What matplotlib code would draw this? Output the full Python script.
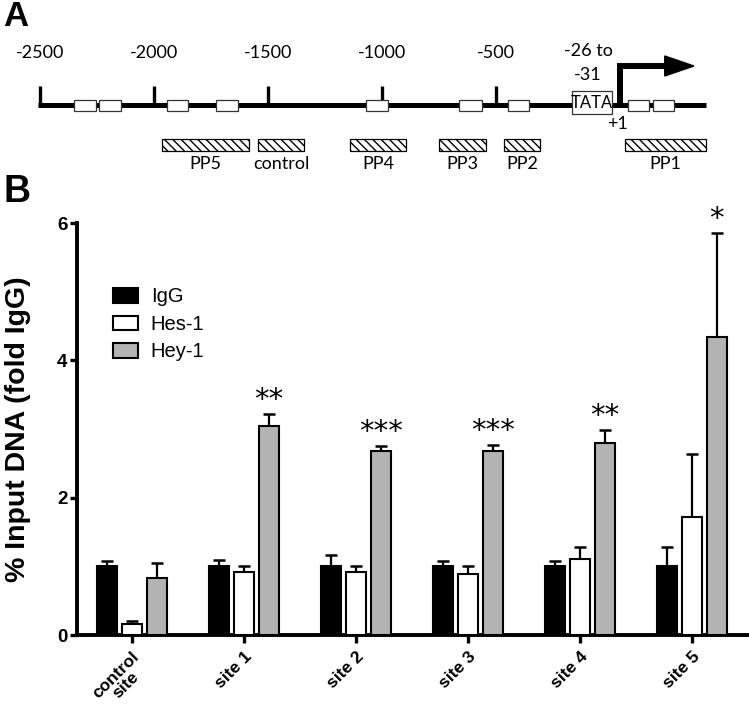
import numpy as np
import matplotlib
matplotlib.use("Agg")
import matplotlib.pyplot as plt
from matplotlib.patches import Rectangle

# ---------------- data (panel B) ----------------
categories = ["control\nsite", "site 1", "site 2", "site 3", "site 4", "site 5"]
series_names = ["IgG", "Hes-1", "Hey-1"]
igg = [1.00, 1.00, 1.00, 1.00, 1.00, 1.00]
igg_err = [0.08, 0.09, 0.17, 0.08, 0.08, 0.28]
hes1 = [0.16, 0.92, 0.92, 0.89, 1.10, 1.72]
hes1_err = [0.05, 0.09, 0.09, 0.12, 0.18, 0.91]
hey1 = [0.83, 3.04, 2.68, 2.68, 2.80, 4.34]
hey1_err = [0.22, 0.18, 0.07, 0.09, 0.18, 1.51]
stars = ["", "**", "***", "***", "**", "*"]
y_ticks = [0, 2, 4, 6]

# ---------------- schematic (panel A), positions in bp ----------------
scale_ticks = [-2500, -2000, -1500, -1000, -500]
scale_labels = ["-2500", "-2000", "-1500", "-1000", "-500"]
line_span = (-2509, 421)
site_boxes = [(-2351, -2256), (-2241, -2145), (-1943, -1851), (-1728, -1632),
              (-1070, -974), (-662, -561), (-447, -355), (79, 171), (189, 281)]
tata_box = (-168, 8)
tss = 44
arrow_end = 368
pp_regions = [(-1965, -1583), (-1544, -1342), (-1140, -895), (-750, -544),
              (-465, -307), (66, 421)]
pp_labels = ["PP5", "control", "PP4", "PP3", "PP2", "PP1"]

W, H = 749, 715
fig = plt.figure(figsize=(W / 100, H / 100), dpi=100)

# ---------- Panel A ----------
axA = fig.add_axes([0, 1 - 175 / H, 1, 175 / H])
axA.set_xlim(-2675.4, 609.6)
axA.set_ylim(175, 0)
axA.axis("off")
fA = "Lato"

axA.plot(line_span, [105, 105], color="black", lw=3.6, solid_capstyle="butt", zorder=1)
for t, lab in zip(scale_ticks, scale_labels):
    axA.plot([t, t], [86, 105], color="black", lw=2.4, solid_capstyle="butt", zorder=1)
    axA.text(t, 53, lab, ha="center", va="center", fontsize=13, family=fA)
for a, b in site_boxes:
    axA.add_patch(Rectangle((a, 99.5), b - a, 11.5, facecolor="white",
                            edgecolor="#333333", lw=0.9, zorder=3))
axA.add_patch(Rectangle((tata_box[0], 91), tata_box[1] - tata_box[0], 23,
                        facecolor="white", edgecolor="#333333", lw=0.9, zorder=3))
axA.text((tata_box[0] + tata_box[1]) / 2, 103, "TATA", ha="center", va="center",
         fontsize=12, family=fA, zorder=4)
axA.text(-96, 51, "-26 to", ha="center", va="center", fontsize=13, family=fA)
axA.text(-96, 75, "-31", ha="center", va="center", fontsize=13, family=fA)
axA.text(31, 124, "+1", ha="center", va="center", fontsize=13, family=fA)
# transcription start arrow
axA.plot([tss, tss, 245], [106, 66, 66], color="black", lw=4.3,
         solid_joinstyle="miter", solid_capstyle="butt", zorder=2)
axA.fill([240, arrow_end, 240], [56, 66, 76], color="black", zorder=2)
for (a, b), lab in zip(pp_regions, pp_labels):
    axA.add_patch(Rectangle((a, 138.5), b - a, 12.5, facecolor="white",
                            edgecolor="black", lw=0.9, hatch="\\\\\\\\", zorder=3))
    axA.text((a + b) / 2, 164, lab, ha="center", va="center", fontsize=13, family=fA)

fig.text(3 / W, 1 - 17 / H, "A", fontsize=25, fontweight="bold",
         family="Liberation Sans", va="center", ha="left")
fig.text(3 / W, 1 - 192 / H, "B", fontsize=27, fontweight="bold",
         family="Liberation Sans", va="center", ha="left")

# ---------- Panel B ----------
fB = "Liberation Sans"
ax = fig.add_axes([77 / W, (H - 635) / H, (W - 77) / W, (635 - 223) / H])
x = np.arange(len(categories))
bw = 0.178
off = 0.223
edge_lw = 1.5
colors = ["black", "white", "#b3b3b3"]
vals = [igg, hes1, hey1]
errs = [igg_err, hes1_err, hey1_err]
for i, (v, e, c, name) in enumerate(zip(vals, errs, colors, series_names)):
    pos = x + (i - 1) * off
    ax.bar(pos, v, width=bw, color=c, edgecolor="black", linewidth=edge_lw,
           label=name, zorder=3)
    ax.errorbar(pos, v, yerr=[np.zeros(len(v)), e], fmt="none", ecolor="black",
                elinewidth=1.6, capsize=4, capthick=1.8, zorder=2)

for i, s in enumerate(stars):
    if s:
        top = hey1[i] + hey1_err[i]
        ax.annotate(s, (x[i] + off, top), xytext=(0, 0), textcoords="offset points",
                    ha="center", va="bottom", fontsize=21, family="DejaVu Sans")

ax.set_xlim(-0.49, 5.51)
ax.set_ylim(0, 6)
ax.set_yticks(y_ticks)
ax.set_yticklabels([str(t) for t in y_ticks], fontsize=13.5, fontweight="bold", family=fB)
ax.set_xticks(x)
ax.set_xticklabels(categories, rotation=45, ha="right", rotation_mode="anchor",
                   fontsize=12.5, fontweight="bold", family=fB, multialignment="center",
                   linespacing=0.9)
for sp in ["top", "right"]:
    ax.spines[sp].set_visible(False)
for sp in ["left", "bottom"]:
    ax.spines[sp].set_linewidth(2.8)
ax.tick_params(axis="both", width=2.4, length=5, pad=2)
ax.tick_params(axis="x", length=6, pad=4)
ax.set_ylabel("% Input DNA (fold IgG)", fontsize=20.5, fontweight="bold", family=fB,
              va="center")
ax.yaxis.set_label_coords(-0.088, 0.5)

leg = ax.legend(loc="upper left", bbox_to_anchor=(0.041, 0.863), frameon=False,
                prop={"family": fB, "size": 14.5}, handlelength=1.25, handleheight=0.75,
                labelspacing=0.42, handletextpad=0.65, borderaxespad=0)

fig.savefig("out.png", dpi=100)
